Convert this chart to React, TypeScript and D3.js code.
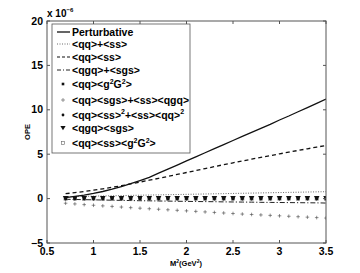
import * as d3 from "d3";

// M^2 sample points (GeV^2)
const xs = [0.7, 0.8, 0.9, 1.0, 1.1, 1.2, 1.3, 1.4, 1.5, 1.6, 1.7, 1.8, 1.9, 2.0, 2.1, 2.2, 2.3, 2.4, 2.5, 2.6, 2.7, 2.8, 2.9, 3.0, 3.1, 3.2, 3.3, 3.4, 3.5];

// OPE contributions, in units of 1e-6
const perturbative = [0.12, 0.25, 0.4, 0.58, 0.8, 1.06, 1.36, 1.68, 2.03, 2.4, 2.86, 3.32, 3.78, 4.24, 4.7, 5.16, 5.62, 6.08, 6.54, 7.0, 7.46, 7.9, 8.35, 8.85, 9.3, 9.78, 10.25, 10.72, 11.2];
const qqPlusSs = [0.22, 0.24, 0.26, 0.28, 0.3, 0.32, 0.34, 0.36, 0.38, 0.4, 0.42, 0.44, 0.46, 0.48, 0.5, 0.52, 0.54, 0.56, 0.58, 0.6, 0.62, 0.64, 0.66, 0.68, 0.7, 0.72, 0.74, 0.76, 0.78];
const qqSs = [0.55, 0.67, 0.8, 0.95, 1.1, 1.27, 1.45, 1.65, 1.86, 2.07, 2.28, 2.5, 2.72, 2.94, 3.16, 3.38, 3.6, 3.82, 4.03, 4.24, 4.44, 4.64, 4.84, 5.04, 5.23, 5.42, 5.61, 5.8, 5.98];
const qgqPlusSgs = [-0.08, -0.1, -0.12, -0.14, -0.16, -0.18, -0.2, -0.22, -0.24, -0.25, -0.27, -0.28, -0.3, -0.31, -0.33, -0.34, -0.35, -0.37, -0.38, -0.39, -0.4, -0.42, -0.43, -0.44, -0.45, -0.46, -0.47, -0.48, -0.5];
const qqG2 = [0.02, 0.02, 0.02, 0.02, 0.02, 0.02, 0.02, 0.02, 0.02, 0.02, 0.02, 0.02, 0.02, 0.02, 0.02, 0.02, 0.02, 0.02, 0.02, 0.02, 0.02, 0.02, 0.02, 0.02, 0.02, 0.02, 0.02, 0.02, 0.02];
const qqSgsSsQgq = [-0.52, -0.6, -0.68, -0.75, -0.82, -0.88, -0.95, -1.02, -1.08, -1.14, -1.2, -1.26, -1.32, -1.38, -1.44, -1.5, -1.56, -1.62, -1.68, -1.74, -1.79, -1.84, -1.89, -1.94, -1.99, -2.04, -2.09, -2.14, -2.19];
const qqSs2 = [-0.02, -0.02, -0.02, -0.02, -0.02, -0.02, -0.02, -0.02, -0.02, -0.02, -0.02, -0.02, -0.02, -0.02, -0.02, -0.02, -0.02, -0.02, -0.02, -0.02, -0.02, -0.02, -0.02, -0.02, -0.02, -0.02, -0.02, -0.02, -0.02];
const qgqSgs = [0.05, 0.05, 0.05, 0.05, 0.05, 0.05, 0.05, 0.05, 0.05, 0.05, 0.05, 0.05, 0.05, 0.05, 0.05, 0.05, 0.05, 0.05, 0.05, 0.05, 0.05, 0.05, 0.05, 0.05, 0.05, 0.05, 0.05, 0.05, 0.05];
const qqSsG2 = [0.0, 0.0, 0.0, 0.0, 0.0, 0.0, 0.0, 0.0, 0.0, 0.0, 0.0, 0.0, 0.0, 0.0, 0.0, 0.0, 0.0, 0.0, 0.0, 0.0, 0.0, 0.0, 0.0, 0.0, 0.0, 0.0, 0.0, 0.0, 0.0];

const xTicks = [0.5, 1, 1.5, 2, 2.5, 3, 3.5];
const yTicks = [-5, 0, 5, 10, 15, 20];

const font = "'Liberation Sans', Arial, Helvetica, sans-serif";
const axisColor = "#555";

const left = 47, right = 326, top = 21, bottom = 243;

export default function App() {
  const x = d3.scaleLinear().domain([0.5, 3.5]).range([left, right]);
  const y = d3.scaleLinear().domain([-5, 20]).range([bottom, top]);

  const line = (vals: number[]) =>
    d3.line<number>().x((_, i) => x(xs[i])).y((v) => y(v))(vals) || "";

  const tri = (cx: number, cy: number, s: number) =>
    `M${cx - s},${cy - s * 0.8}L${cx + s},${cy - s * 0.8}L${cx},${cy + s * 0.9}Z`;

  const plus = (cx: number, cy: number, s: number) =>
    `M${cx - s},${cy}H${cx + s}M${cx},${cy - s}V${cy + s}`;

  // legend rows
  const lx = 72, ls0 = 57, ls1 = 70, lm = 63;
  const rows = [32, 44, 57, 70, 84, 100, 115, 128, 143];

  return (
    <svg width={360} height={273} style={{ position: "absolute", left: 0, top: 0, background: "#fff" }} fontFamily={font}>
      <rect x={0} y={0} width={360} height={273} fill="#fff" />

      {/* series */}
      <g clipPath="url(#clip)">
        <path d={line(qqPlusSs)} fill="none" stroke="#444" strokeWidth={0.8} strokeDasharray="1,1.5" />
        <path d={line(qgqPlusSgs)} fill="none" stroke="#222" strokeWidth={1} strokeDasharray="5,2,1.2,2" />
        {xs.map((v, i) => (
          <rect key={"sq" + i} x={x(v) - 1.6} y={y(qqSsG2[i]) - 1.6} width={3.2} height={3.2} fill="none" stroke="#666" strokeWidth={0.6} />
        ))}
        {xs.map((v, i) => (
          <rect key={"g2" + i} x={x(v) - 1.3} y={y(qqG2[i]) - 1.3} width={2.6} height={2.6} fill="#111" />
        ))}
        {xs.map((v, i) => (
          <circle key={"d" + i} cx={x(v)} cy={y(qqSs2[i])} r={1.4} fill="#111" />
        ))}
        {xs.map((v, i) => (
          <path key={"t" + i} d={tri(x(v), y(qgqSgs[i]), 2.8)} fill="#111" />
        ))}
        {xs.map((v, i) => (
          <path key={"p" + i} d={plus(x(v), y(qqSgsSsQgq[i]), 1.8)} stroke="#444" strokeWidth={0.6} />
        ))}
        <path d={line(qqSs)} fill="none" stroke="#111" strokeWidth={1.3} strokeDasharray="4,3" />
        <path d={line(perturbative)} fill="none" stroke="#111" strokeWidth={1.3} />
      </g>
      <defs>
        <clipPath id="clip">
          <rect x={left} y={top} width={right - left} height={bottom - top} />
        </clipPath>
      </defs>

      {/* frame and ticks */}
      <rect x={left} y={top} width={right - left} height={bottom - top} fill="none" stroke={axisColor} strokeWidth={1} />
      {xTicks.map((t) => (
        <g key={"xt" + t}>
          <line x1={x(t)} x2={x(t)} y1={bottom} y2={bottom - 3} stroke={axisColor} />
          <line x1={x(t)} x2={x(t)} y1={top} y2={top + 3} stroke={axisColor} />
          <text x={x(t)} y={255} textAnchor="middle" fontSize={10.5} fontWeight="bold" fill="#000">{t}</text>
        </g>
      ))}
      {yTicks.map((t) => (
        <g key={"yt" + t}>
          <line x1={left} x2={left + 3} y1={y(t)} y2={y(t)} stroke={axisColor} />
          <line x1={right} x2={right - 3} y1={y(t)} y2={y(t)} stroke={axisColor} />
          <text x={43} y={y(t) + 3.5} textAnchor="end" fontSize={10.5} fontWeight="bold" fill="#000">{t === -5 ? "\u22125" : t}</text>
        </g>
      ))}

      {/* exponent label */}
      <text x={47} y={17} fontSize={10} fontWeight="bold">x 10<tspan dy={-5} fontSize={6}>{"\u22126"}</tspan></text>

      {/* axis labels */}
      <text transform="translate(30,132) rotate(-90)" textAnchor="middle" fontSize={7.5} fontWeight="bold">OPE</text>
      <text x={186} y={266} textAnchor="middle" fontSize={7.5} fontWeight="bold">M<tspan dy={-3} fontSize={5}>2</tspan><tspan dy={3}>(GeV</tspan><tspan dy={-3} fontSize={5}>2</tspan><tspan dy={3}>)</tspan></text>

      {/* legend */}
      <rect x={52} y={24} width={138} height={129} fill="#fff" stroke={axisColor} strokeWidth={0.8} />
      <line x1={ls0} x2={ls1} y1={rows[0]} y2={rows[0]} stroke="#111" strokeWidth={1.3} />
      <line x1={ls0} x2={ls1} y1={rows[1]} y2={rows[1]} stroke="#444" strokeWidth={0.8} strokeDasharray="1,1.5" />
      <line x1={ls0} x2={ls1} y1={rows[2]} y2={rows[2]} stroke="#111" strokeWidth={1.2} strokeDasharray="3,2" />
      <line x1={ls0} x2={ls1} y1={rows[3]} y2={rows[3]} stroke="#222" strokeWidth={1} strokeDasharray="4,2,1,2" />
      <rect x={lm - 1.3} y={rows[4] - 1.3} width={2.6} height={2.6} fill="#111" />
      <path d={plus(lm, rows[5], 2)} stroke="#555" strokeWidth={0.6} />
      <circle cx={lm} cy={rows[6]} r={1.4} fill="#111" />
      <path d={tri(lm, rows[7], 2.6)} fill="#111" />
      <rect x={lm - 1.6} y={rows[8] - 1.6} width={3.2} height={3.2} fill="none" stroke="#666" strokeWidth={0.6} />

      <g fontSize={10.5} fontWeight="bold" fill="#000">
        <text x={lx} y={rows[0] + 3.5}>Perturbative</text>
        <text x={lx} y={rows[1] + 3.5}>{"<qq>+<ss>"}</text>
        <text x={lx} y={rows[2] + 3.5}>{"<qq><ss>"}</text>
        <text x={lx} y={rows[3] + 3.5}>{"<qgq>+<sgs>"}</text>
        <text x={lx} y={rows[4] + 3.5}>{"<qq><g"}<tspan dy={-4} fontSize={7}>2</tspan><tspan dy={4}>G</tspan><tspan dy={-4} fontSize={7}>2</tspan><tspan dy={4}>{">"}</tspan></text>
        <text x={lx} y={rows[5] + 3.5}>{"<qq><sgs>+<ss><qgq>"}</text>
        <text x={lx} y={rows[6] + 3.5}>{"<qq><ss>"}<tspan dy={-5} fontSize={7}>2</tspan><tspan dy={5}>{"+<ss><qq>"}</tspan><tspan dy={-5} fontSize={7}>2</tspan></text>
        <text x={lx} y={rows[7] + 3.5}>{"<qgq><sgs>"}</text>
        <text x={lx} y={rows[8] + 3.5}>{"<qq><ss><g"}<tspan dy={-4} fontSize={7}>2</tspan><tspan dy={4}>G</tspan><tspan dy={-4} fontSize={7}>2</tspan><tspan dy={4}>{">"}</tspan></text>
      </g>
    </svg>
  );
}
